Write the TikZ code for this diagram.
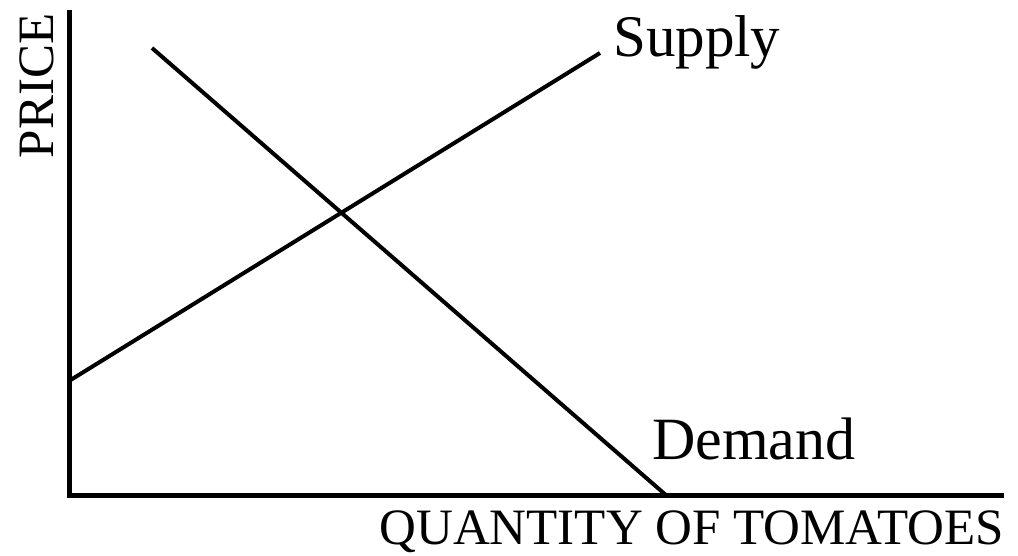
\documentclass[tikz,border=0pt]{standalone}
\usepackage{fontspec}
\setmainfont{Liberation Serif}
\begin{document}
\begin{tikzpicture}[x=1pt,y=1pt,
  axis/.style={line width=5pt,line join=miter},
  curve/.style={line width=4pt},
  lbl/.style={inner sep=0pt,anchor=base west,font=\fontsize{59}{61}\selectfont},
  axlbl/.style={inner sep=0pt,font=\fontsize{51}{53}\selectfont}]
\useasboundingbox (0,0) rectangle (1018,556);
\coordinate (ytop) at (69,546);
\coordinate (orig) at (69,60);
\coordinate (xend) at (1004,60);
\draw[axis] (ytop) -- (orig) -- (xend);
\coordinate (s0) at (69,175);
\coordinate (s1) at (600,503);
\coordinate (d0) at (152,508);
\coordinate (d1) at (667,60);
\draw[curve] (s0) -- (s1);
\draw[curve] (d0) -- (d1);
\node[lbl] (supply) at (613,499) {Supply};
\node[lbl,font=\fontsize{60}{62}\selectfont] (demand) at (652,96) {Demand};
\node[axlbl,anchor=base east] (qty) at (1004,11) {QUANTITY OF TOMATOES};
\node[axlbl,anchor=base,rotate=90] (price) at (53,470) {PRICE};
\end{tikzpicture}
\end{document}
